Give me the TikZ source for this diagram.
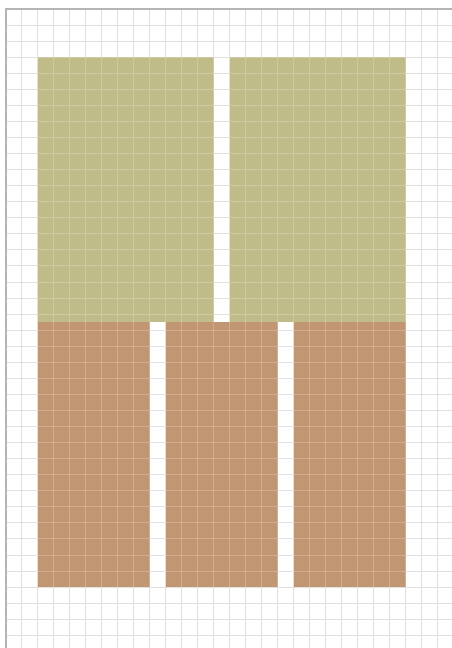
\documentclass[tikz,border=0pt]{standalone}
\definecolor{olivefill}{RGB}{191,188,138}
\definecolor{brownfill}{RGB}{193,151,115}
\definecolor{gridgray}{RGB}{224,224,224}
\definecolor{bordergray}{RGB}{180,180,180}
\tikzset{
  gridline/.style={draw=gridgray, line width=0.5pt},
  innergridline/.style={draw=white, line width=0.5pt, draw opacity=0.22},
  borderline/.style={draw=bordergray, line width=0.6pt},
  upperblock/.style={fill=olivefill},
  lowerblock/.style={fill=brownfill},
}
\begin{document}
\begin{tikzpicture}[x=16*0.5pt, y=16.06*0.5pt]
  \useasboundingbox (-0.375,0.5604) rectangle (27.875,-39.79);
  \fill[white] (-0.375,0.5604) rectangle (27.875,-39.79);
  % grid
  \foreach \i in {1,...,27} {\draw[gridline] (\i,0) -- (\i,-39.79);}
  \foreach \j in {1,...,39} {\draw[gridline] (0,-\j) -- (27.875,-\j);}
  % blocks
  \path[upperblock] (2,-3) rectangle (13,-19.5);
  \path[upperblock] (14,-3) rectangle (25,-19.5);
  \path[lowerblock] (2,-19.5) rectangle (9,-36);
  \path[lowerblock] (10,-19.5) rectangle (17,-36);
  \path[lowerblock] (18,-19.5) rectangle (25,-36);
  % grid showing through the blocks
  \begin{scope}
    \clip (2,-3) rectangle (13,-19.5) (14,-3) rectangle (25,-19.5)
          (2,-19.5) rectangle (9,-36) (10,-19.5) rectangle (17,-36)
          (18,-19.5) rectangle (25,-36);
    \foreach \i in {1,...,27} {\draw[innergridline] (\i,0) -- (\i,-39.79);}
    \foreach \j in {1,...,39} {\draw[innergridline] (0,-\j) -- (27.875,-\j);}
  \end{scope}
  % border
  \draw[borderline] (0,-39.79) -- (0,0) -- (27.875,0);
\end{tikzpicture}
\end{document}
